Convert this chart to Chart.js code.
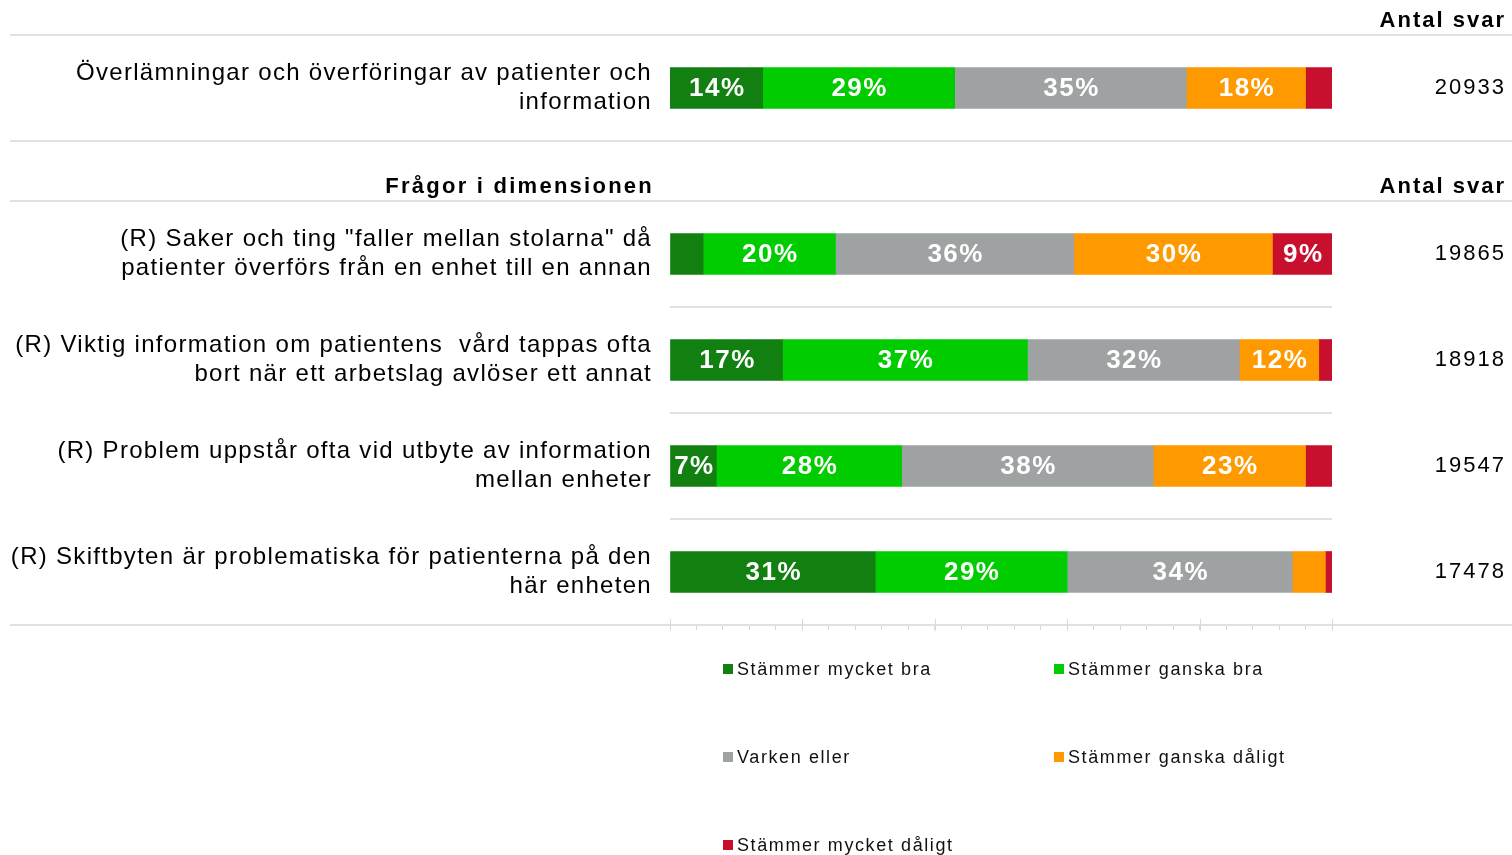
<!DOCTYPE html>
<html lang="sv">
<head>
<meta charset="utf-8">
<title>Överlämningar och överföringar</title>
<script src="https://cdn.jsdelivr.net/npm/chart.js@4.4.1/dist/chart.umd.min.js"></script>
<style>
  html, body { margin: 0; padding: 0; background: #fff; }
  #wrap { position: relative; width: 1512px; height: 855px; overflow: hidden; }
  #wrap canvas { position: absolute; left: 0; }
  #dimChart { top: 0; }
  #questionChart { top: 143px; }
</style>
</head>
<body>
<div id="wrap">
  <canvas id="dimChart" width="1512" height="143"></canvas>
  <canvas id="questionChart" width="1512" height="712"></canvas>
</div>
<script>
const answerOptions = ['Stämmer mycket bra', 'Stämmer ganska bra', 'Varken eller', 'Stämmer ganska dåligt', 'Stämmer mycket dåligt'];
const answerColors = ['#118011', '#00cc00', '#9fa2a3', '#ff9900', '#c8102e'];

// dimension summary (top row)
const dimensionLabels = [['Överlämningar och överföringar av patienter och', 'information']];
const dimensionValues = [[14, 29, 35, 18, 4]];
const dimensionCounts = [20933];

// questions in the dimension
const questionLabels = [
  ['(R) Saker och ting "faller mellan stolarna" då', 'patienter överförs från en enhet till en annan'],
  ['(R) Viktig information om patientens  vård tappas ofta', 'bort när ett arbetslag avlöser ett annat'],
  ['(R) Problem uppstår ofta vid utbyte av information', 'mellan enheter'],
  ['(R) Skiftbyten är problematiska för patienterna på den', 'här enheten']
];
const questionValues = [
  [5, 20, 36, 30, 9],
  [17, 37, 32, 12, 2],
  [7, 28, 38, 23, 4],
  [31, 29, 34, 5, 1]
];
const questionCounts = [19865, 18918, 19547, 17478];

const FONT = "'Liberation Sans', Arial, sans-serif";
const LINE = '#e1e1e1';
Chart.defaults.font.family = FONT;

function buildDatasets(rows) {
  return answerOptions.map((name, k) => ({
    label: name,
    data: rows.map(r => r[k]),
    backgroundColor: answerColors[k],
    borderWidth: 0,
    barThickness: 41
  }));
}

// wider tracking for the axis labels
const tracking = {
  id: 'tracking',
  beforeDraw(chart) { chart.ctx.letterSpacing = '1.3px'; }
};

// percentage text inside each segment
const segmentLabels = {
  id: 'segmentLabels',
  afterDatasetsDraw(chart) {
    const ctx = chart.ctx;
    ctx.save();
    ctx.font = `bold 26px ${FONT}`;
    ctx.letterSpacing = '1.5px';
    ctx.fillStyle = '#fff';
    ctx.textAlign = 'center';
    ctx.textBaseline = 'middle';
    chart.data.datasets.forEach((ds, i) => {
      chart.getDatasetMeta(i).data.forEach((bar, j) => {
        const v = ds.data[j];
        if (v < 7) return;
        ctx.fillText(v + '%', (bar.x + bar.base) / 2 + 1, bar.y + 1);
      });
    });
    ctx.restore();
  }
};

// separator lines, headers and answer counts
const tableDecor = {
  id: 'tableDecor',
  afterDraw(chart, args, opts) {
    const {ctx, chartArea: ca, width} = chart;
    const yScale = chart.scales.y;
    ctx.save();
    ctx.strokeStyle = LINE;
    ctx.lineWidth = 2;
    [ca.top, ca.bottom].forEach(y => {
      ctx.beginPath();
      ctx.moveTo(10, y);
      ctx.lineTo(width, y);
      ctx.stroke();
    });
    ctx.fillStyle = '#000';
    ctx.textAlign = 'right';
    ctx.textBaseline = 'middle';
    ctx.font = `bold 22px ${FONT}`;
    ctx.letterSpacing = '2px';
    ctx.fillText('Antal svar', width - 6, ca.top - 14);
    if (opts.title) {
      ctx.letterSpacing = '2.25px';
      ctx.fillText(opts.title, ca.left - 16, ca.top - 14);
      ctx.letterSpacing = '2px';
    }
    ctx.font = `22px ${FONT}`;
    opts.counts.forEach((n, i) => ctx.fillText(String(n), width - 6, yScale.getPixelForValue(i)));
    ctx.restore();
  }
};

// longer marks every 20 %
const majorTicks = {
  id: 'majorTicks',
  afterDraw(chart) {
    const {ctx, chartArea: ca} = chart;
    const x = chart.scales.x;
    ctx.save();
    ctx.strokeStyle = '#d9d9d9';
    ctx.lineWidth = 1;
    for (let v = 0; v <= 100; v += 20) {
      const px = Math.round(x.getPixelForValue(v)) + 0.5;
      ctx.beginPath();
      ctx.moveTo(px, ca.bottom - 6);
      ctx.lineTo(px, ca.bottom + 6);
      ctx.stroke();
    }
    ctx.restore();
  }
};

// two-column legend under the axis
const gridLegend = {
  id: 'gridLegend',
  afterDraw(chart) {
    const {ctx, chartArea: ca} = chart;
    ctx.save();
    ctx.font = `18px ${FONT}`;
    ctx.letterSpacing = '1.6px';
    ctx.textAlign = 'left';
    ctx.textBaseline = 'middle';
    chart.data.datasets.forEach((ds, i) => {
      const x = ca.left + 53 + (i % 2) * 331;
      const y = ca.bottom + 44 + Math.floor(i / 2) * 88;
      ctx.fillStyle = ds.backgroundColor;
      ctx.fillRect(x, y - 5, 10, 10);
      ctx.fillStyle = '#111';
      ctx.fillText(ds.label, x + 14, y + 1);
    });
    ctx.restore();
  }
};

function yAxis(withGrid) {
  return {
    type: 'category',
    stacked: true,
    offset: true,
    afterFit: s => {
      s.width = 670;
      // labels may overflow the band vertically; keep the plot area where it is
      s.paddingTop = 0;
      s.paddingBottom = 0;
    },
    border: { display: false },
    grid: { display: withGrid, offset: true, drawTicks: false, color: LINE, lineWidth: 2 },
    ticks: { color: '#000', padding: 18, font: { size: 24, lineHeight: 1.2 } }
  };
}

const common = {
  indexAxis: 'y',
  responsive: false,
  animation: false,
  devicePixelRatio: 1,
  events: []
};

new Chart(document.getElementById('dimChart'), {
  type: 'bar',
  data: { labels: dimensionLabels, datasets: buildDatasets(dimensionValues) },
  options: {
    ...common,
    layout: { padding: { top: 35, right: 180, bottom: 2, left: 0 } },
    scales: {
      x: { display: false, stacked: true, min: 0, max: 100 },
      y: yAxis(false)
    },
    plugins: {
      legend: { display: false },
      tooltip: { enabled: false },
      tableDecor: { counts: dimensionCounts }
    }
  },
  plugins: [tracking, segmentLabels, tableDecor]
});

new Chart(document.getElementById('questionChart'), {
  type: 'bar',
  data: { labels: questionLabels, datasets: buildDatasets(questionValues) },
  options: {
    ...common,
    layout: { padding: { top: 58, right: 180, bottom: 0, left: 0 } },
    scales: {
      x: {
        stacked: true,
        min: 0,
        max: 100,
        afterFit: s => { s.height = 230; },
        border: { display: false },
        grid: { drawOnChartArea: false, drawTicks: true, tickLength: 5, color: '#d9d9d9', lineWidth: 1 },
        ticks: { display: false, stepSize: 4 }
      },
      y: yAxis(true)
    },
    plugins: {
      legend: { display: false },
      tooltip: { enabled: false },
      tableDecor: { title: 'Frågor i dimensionen', counts: questionCounts }
    }
  },
  plugins: [tracking, segmentLabels, tableDecor, majorTicks, gridLegend]
});
</script>
</body>
</html>
